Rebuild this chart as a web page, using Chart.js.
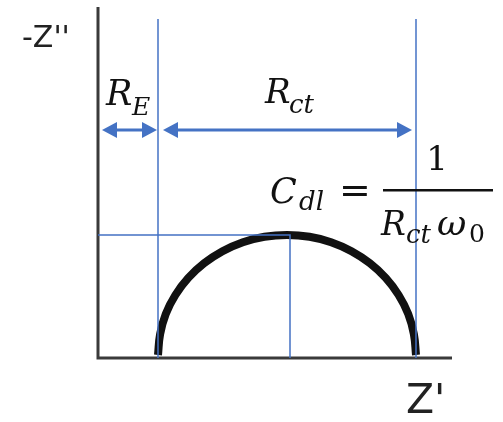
<!DOCTYPE html>
<html>
<head>
<meta charset="utf-8">
<script src="https://cdn.jsdelivr.net/npm/chart.js@4"></script>
<style>
  html, body { margin: 0; padding: 0; background: #fff; }
  #wrap { width: 503px; height: 422px; position: relative; }
</style>
</head>
<body>
<div id="wrap"><canvas id="nyquist"></canvas></div>
<script>
// Nyquist sketch of a simple Randles cell: semicircle between R_E and R_E + R_ct
const xRange = [0, 118];
const yRange = [0, 117];

const arcX = [20, 20.7, 22.6, 25.8, 30.1, 35.4, 41.5, 48.3, 55.5, 63,
              70.5, 77.7, 84.5, 90.6, 95.9, 100.2, 103.4, 105.3, 106];
const arcY = [1, 7.9, 14.7, 21, 26.7, 31.6, 35.6, 38.6, 40.4, 41,
              40.4, 38.6, 35.6, 31.6, 26.7, 21, 14.7, 7.9, 1];

const rE = 20;
const rEct = 106;          // R_E + R_ct
const peak = { x: 64, y: 41 };
const guideTop = 113;
const arrowY = 76;

const spans = [
  { from: 0, to: rE },
  { from: rE, to: rEct },
];

const BLUE = "#4472c4";
const INK = "#111111";
const MATH = '"DejaVu Serif", "Liberation Serif", serif';
const SANS = '"DejaVu Sans", Arial, sans-serif';

function line(points, color, width, extra = {}) {
  return {
    data: points,
    showLine: true,
    borderColor: color,
    borderWidth: width,
    pointRadius: 0,
    fill: false,
    clip: false,
    ...extra,
  };
}

// each piece: [text, x, baseline, size, italic]
function drawPieces(ctx, pieces) {
  pieces.forEach(([t, x, y, size, italic]) => {
    ctx.font = `${italic ? "italic " : ""}${size}px ${MATH}`;
    ctx.fillText(t, x, y);
  });
}

function arrowHead(ctx, tipX, y, dir) {
  const len = 15, half = 8;
  ctx.beginPath();
  ctx.moveTo(tipX, y);
  ctx.lineTo(tipX - dir * len, y - half);
  ctx.lineTo(tipX - dir * len, y + half);
  ctx.closePath();
  ctx.fill();
}

const labelsPlugin = {
  id: "nyquistLabels",
  afterDatasetsDraw(chart) {
    const { ctx, scales } = chart;
    const xs = scales.x, ys = scales.y;
    ctx.save();

    // dimension arrows
    const ay = ys.getPixelForValue(arrowY);
    ctx.strokeStyle = BLUE;
    ctx.fillStyle = BLUE;
    ctx.lineWidth = 3;
    spans.forEach((s, i) => {
      const a = xs.getPixelForValue(s.from) + (i === 0 ? 4 : 5);
      const b = xs.getPixelForValue(s.to) - (i === 0 ? 1 : 4);
      ctx.beginPath();
      ctx.moveTo(a + 10, ay);
      ctx.lineTo(b - 10, ay);
      ctx.stroke();
      arrowHead(ctx, a, ay, -1);
      arrowHead(ctx, b, ay, 1);
    });

    ctx.fillStyle = INK;
    ctx.textBaseline = "alphabetic";
    ctx.textAlign = "left";

    drawPieces(ctx, [
      // R_E, R_ct
      ["R", 106, 105, 35, true],
      ["E", 132, 115, 25, true],
      ["R", 265, 103, 34, true],
      ["ct", 289, 113, 26, true],
      // C_dl = 1 / (R_ct w0)
      ["C", 270, 203, 35, true],
      ["dl", 299, 210, 26, true],
      ["R", 381, 235, 33, true],
      ["ct", 406, 243, 26, true],
      ["ω", 437, 235, 36, true],
      ["0", 469, 242, 25, false],
    ]);
    ctx.textAlign = "center";
    ctx.font = `38px ${MATH}`;
    ctx.fillText("=", 355, 203);
    ctx.font = `34px ${MATH}`;
    ctx.fillText("1", 437, 170);
    ctx.fillRect(383, 189, 110, 2.5);
    ctx.textAlign = "left";

    // axis titles
    ctx.fillStyle = "#222";
    ctx.font = `30px ${SANS}`;
    ctx.fillText("-Z''", 22, 47);
    ctx.font = `41px ${SANS}`;
    ctx.fillText("Z'", 406, 413);

    ctx.restore();
  },
};

new Chart(document.getElementById("nyquist"), {
  type: "scatter",
  data: {
    datasets: [
      line([{ x: rE, y: 0 }, { x: rE, y: guideTop }], BLUE, 1.5),
      line([{ x: rEct, y: 0 }, { x: rEct, y: guideTop }], BLUE, 1.5),
      line([{ x: 0, y: peak.y }, { x: peak.x, y: peak.y }, { x: peak.x, y: 0 }], BLUE, 1.5),
      line(arcX.map((x, i) => ({ x, y: arcY[i] })), INK, 8, { tension: 0.4, borderCapStyle: "butt" }),
      line([{ x: xRange[0], y: yRange[1] }, { x: xRange[0], y: yRange[0] }, { x: xRange[1], y: yRange[0] }], "#3a3a3a", 3),
    ],
  },
  options: {
    responsive: true,
    maintainAspectRatio: false,
    animation: false,
    layout: { padding: { left: 98, right: 51, top: 7, bottom: 64 } },
    plugins: { legend: { display: false }, tooltip: { enabled: false } },
    scales: {
      x: { type: "linear", min: xRange[0], max: xRange[1], display: false },
      y: { type: "linear", min: yRange[0], max: yRange[1], display: false },
    },
  },
  plugins: [labelsPlugin],
});
</script>
</body>
</html>
